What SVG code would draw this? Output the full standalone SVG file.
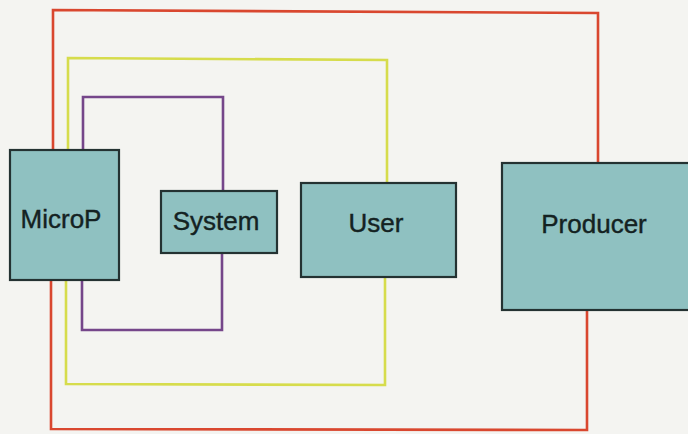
<svg xmlns="http://www.w3.org/2000/svg" width="688" height="434" viewBox="0 0 688 434">
<style>
.box{fill:#8fc1c1;stroke:#243232;stroke-width:2.2}
.lbl{font-family:"Liberation Sans",Arial,sans-serif;font-size:26px;fill:#142222;text-anchor:middle;stroke:#142222;stroke-width:0.4}
.w{fill:none;stroke-width:2.6;stroke-linejoin:miter}
.red{stroke:#d9472f}
.yel{stroke:#d6dc4c}
.pur{stroke:#75468a}
</style>
<rect x="0" y="0" width="688" height="434" fill="#f4f4f1"/>
<g id="connectors">
<polyline class="w red" points="53,150 53,10 598,13 598,163"/>
<polyline class="w red" points="51,280 51,429 587,430 587,310"/>
<polyline class="w yel" points="68,150 68,58 387,60 387,183"/>
<polyline class="w yel" points="66,280 66,384 385,385 385,277"/>
<polyline class="w pur" points="83,150 83,97 223,97 223,191"/>
<polyline class="w pur" points="82,280 82,330 222,330 222,253"/>
</g>
<g id="microp"><rect class="box" x="10" y="150" width="109" height="130"/><text class="lbl" x="61" y="228">MicroP</text></g>
<g id="system"><rect class="box" x="161" y="191" width="116" height="62"/><text class="lbl" x="216" y="230">System</text></g>
<g id="user"><rect class="box" x="301" y="183" width="155" height="94"/><text class="lbl" x="376" y="232">User</text></g>
<g id="producer"><rect class="box" x="502" y="163" width="200" height="147"/><text class="lbl" x="594" y="233">Producer</text></g>
</svg>
